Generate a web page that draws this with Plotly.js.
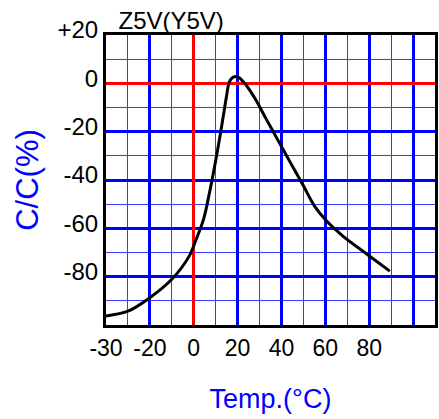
<!DOCTYPE html>
<html>
<head>
<meta charset="utf-8">
<script src="https://cdn.plot.ly/plotly-3.0.1.min.js"></script>
<style>html,body{margin:0;padding:0;background:#fff;}#chart{width:439px;height:419px;}</style>
</head>
<body>
<div id="chart"></div>
<script>
// Curve (x in grid units, y = capacitance change %)
const tempX = [-40, -30, -20, -10, -2, 0.5, 4.5, 7.5, 10, 12, 14, 15, 16.2, 18, 20.3, 23.4, 28, 33, 38.5, 44, 50, 55, 60.5, 68, 79, 89.4];
const capY  = [-96.3, -94.3, -88.7, -81.1, -71.4, -66, -56.2, -43.8, -32, -21.7, -10.6, -5, 0.5, 2.6, 2.6, -0.2, -6.4, -14.7, -23.7, -32.7, -42.4, -50.7, -56.9, -63.2, -70.7, -77.7];

const xTickVals = [-40, -20, 0, 20, 40, 60, 80, 100];
const xTickText = ['-30', '-20', '0', '20', '40', '60', '80', ''];
const xMinorVals = [-30, -10, 10, 30, 50, 70, 90];
const yTickVals = [20, 0, -20, -40, -60, -80];
const yTickText = ['+20', '0', '-20', '-40', '-60', '-80'];
const yMinorVals = [10, -10, -30, -50, -70, -90];

const trace = {
  x: tempX, y: capY, type: 'scatter', mode: 'lines',
  line: {color: '#000000', width: 3, shape: 'spline', smoothing: 0.9},
  hoverinfo: 'skip'
};

const font = 'Liberation Sans, Arial, sans-serif';
const layout = {
  width: 439, height: 419,
  margin: {l: 106, r: 4, t: 35, b: 94},
  paper_bgcolor: '#ffffff', plot_bgcolor: '#ffffff',
  showlegend: false,
  title: {text: 'Z5V(Y5V)', font: {family: font, size: 24, color: '#000'},
          xref: 'paper', x: 0.038, xanchor: 'left', yref: 'container', y: 1 - 21/419, yanchor: 'middle'},
  xaxis: {
    range: [-40, 110], tickmode: 'array', tickvals: xTickVals, ticktext: xTickText,
    showgrid: true, gridcolor: '#0000ff', gridwidth: 3,
    zeroline: true, zerolinecolor: '#ff0000', zerolinewidth: 3,
    showline: true, mirror: true, linecolor: '#000', linewidth: 3,
    ticks: '', tickfont: {family: font, size: 23, color: '#000'},
    minor: {tickvals: xMinorVals, showgrid: true, gridcolor: '#3a3aff', gridwidth: 1},
    title: {text: 'Temp.(°C)', font: {family: font, size: 27, color: '#0000ff'}, standoff: 30},
    fixedrange: true
  },
  yaxis: {
    range: [-100, 20], tickmode: 'array', tickvals: yTickVals, ticktext: yTickText,
    showgrid: true, gridcolor: '#0000ff', gridwidth: 3,
    zeroline: true, zerolinecolor: '#ff0000', zerolinewidth: 3,
    showline: true, mirror: true, linecolor: '#000', linewidth: 3,
    ticks: '', tickfont: {family: font, size: 24, color: '#000'},
    ticklabelshift: -5,
    minor: {tickvals: yMinorVals, showgrid: true, gridcolor: '#3a3aff', gridwidth: 1},
    title: {text: 'C/C(%)', font: {family: font, size: 31, color: '#0000ff'}, standoff: 10},
    fixedrange: true
  }
};

Plotly.newPlot('chart', [trace], layout, {displayModeBar: false, staticPlot: true});
</script>
</body>
</html>
